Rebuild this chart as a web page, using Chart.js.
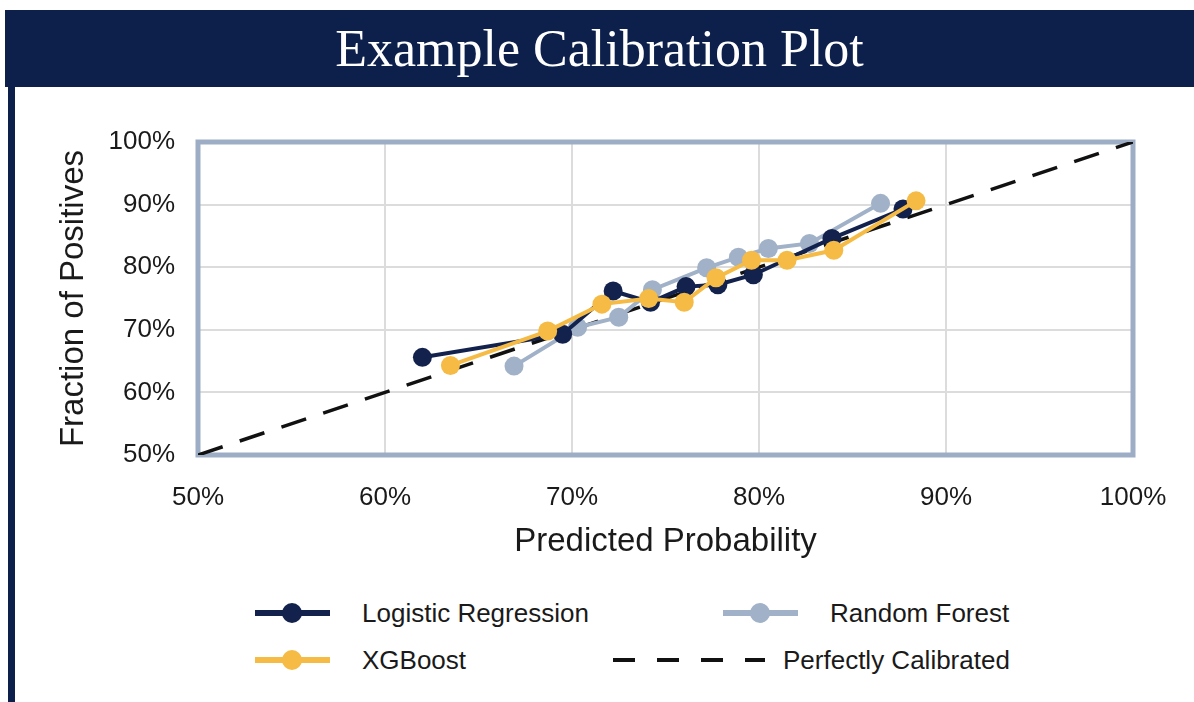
<!DOCTYPE html>
<html>
<head>
<meta charset="utf-8">
<script src="https://cdn.jsdelivr.net/npm/chart.js@4.4.1/dist/chart.umd.min.js"></script>
<style>
    html, body {
        margin: 0;
        padding: 0;
        width: 1194px;
        height: 702px;
        background: #ffffff;
        overflow: hidden;
        font-family: "Liberation Sans", Arial, sans-serif;
    }

    .title-band {
        position: absolute;
        left: 5px;
        top: 10px;
        width: 1189px;
        height: 77px;
        background: #0d1f4b;
        color: #ffffff;
        font-family: "Liberation Serif", "DejaVu Serif", serif;
        font-size: 52px;
        line-height: 77px;
        text-align: center;
    }

    .side-stripe {
        position: absolute;
        left: 8px;
        top: 87px;
        width: 7px;
        height: 615px;
        background: #0d1f4b;
    }

    #chart-wrap {
        position: absolute;
        left: 0;
        top: 87px;
        width: 1194px;
        height: 480px;
    }

    .legend-item {
        position: absolute;
        height: 30px;
        display: flex;
        align-items: center;
        font-size: 26px;
        color: #1a1a1a;
        white-space: nowrap;
    }

    .legend-icon {
        position: relative;
        width: 75px;
        height: 30px;
        margin-right: 32px;
    }

    .legend-icon .line {
        position: absolute;
        left: 0;
        right: 0;
        top: 12px;
        height: 6px;
    }

    .legend-icon .dot {
        position: absolute;
        left: 27px;
        top: 5px;
        width: 20px;
        height: 20px;
        border-radius: 50%;
    }

    .legend-icon.dashed {
        width: 152px;
        margin-right: 18px;
    }

    .legend-icon.dashed .line {
        top: 13px;
        height: 4px;
        background: repeating-linear-gradient(90deg, #111111 0 22px, transparent 22px 44px);
    }
</style>
</head>
<body>
<div class="title-band">Example Calibration Plot</div>
<div class="side-stripe"></div>
<div id="chart-wrap"><canvas id="chart" width="1194" height="480"></canvas></div>

<div class="legend-item" style="left:255px; top:598px;">
    <div class="legend-icon"><div class="line" style="background:#13224d"></div><div class="dot" style="background:#13224d"></div></div>
    <span>Logistic Regression</span>
</div>
<div class="legend-item" style="left:723px; top:598px;">
    <div class="legend-icon"><div class="line" style="background:#a0b1c8"></div><div class="dot" style="background:#a0b1c8"></div></div>
    <span>Random Forest</span>
</div>
<div class="legend-item" style="left:255px; top:645px;">
    <div class="legend-icon"><div class="line" style="background:#f5bb45"></div><div class="dot" style="background:#f5bb45"></div></div>
    <span>XGBoost</span>
</div>
<div class="legend-item" style="left:613px; top:645px;">
    <div class="legend-icon dashed"><div class="line"></div></div>
    <span>Perfectly Calibrated</span>
</div>

<script>
// predicted probability (x) and fraction of positives (y), in percent
const lrX = [62.0, 69.5, 72.2, 74.2, 76.1, 77.8, 79.7, 83.9, 87.7];
const lrY = [65.6, 69.3, 76.2, 74.4, 76.9, 77.2, 78.8, 84.6, 89.3];

const rfX = [66.9, 70.3, 72.5, 74.3, 77.2, 78.9, 80.5, 82.7, 86.5];
const rfY = [64.2, 70.4, 72.0, 76.4, 79.9, 81.6, 83.0, 83.8, 90.2];

const xgbX = [63.5, 68.7, 71.6, 74.1, 76.0, 77.7, 79.6, 81.5, 84.0, 88.4];
const xgbY = [64.3, 69.8, 74.1, 75.0, 74.4, 78.3, 81.1, 81.1, 82.7, 90.6];

const perfectX = [50, 100];
const perfectY = [50, 100];

const axisTicks = [50, 60, 70, 80, 90, 100];

const toPoints = (xs, ys) => xs.map((x, i) => ({ x, y: ys[i] }));

const navy = '#13224d';
const steel = '#a0b1c8';
const gold = '#f5bb45';

// plot frame drawn round the chart area
const frame = {
    id: 'frame',
    beforeDatasetsDraw(chart) {
        const { ctx, chartArea: a } = chart;
        ctx.save();
        ctx.strokeStyle = '#9dadc6';
        ctx.lineWidth = 5;
        ctx.strokeRect(a.left, a.top, a.right - a.left, a.bottom - a.top);
        ctx.restore();
    }
};

const series = (label, xs, ys, color, order) => ({
    label,
    data: toPoints(xs, ys),
    borderColor: color,
    backgroundColor: color,
    borderWidth: 4,
    pointRadius: 9.5,
    pointHoverRadius: 9.5,
    pointBorderWidth: 0,
    tension: 0,
    order
});

const tickFont = { family: '"Liberation Sans", Arial, sans-serif', size: 26 };
const titleFont = { family: '"Liberation Sans", Arial, sans-serif', size: 33 };

new Chart(document.getElementById('chart'), {
    type: 'line',
    data: {
        datasets: [
            series('XGBoost', xgbX, xgbY, gold, 0),
            series('Logistic Regression', lrX, lrY, navy, 1),
            series('Random Forest', rfX, rfY, steel, 2),
            {
                label: 'Perfectly Calibrated',
                data: toPoints(perfectX, perfectY),
                borderColor: '#111111',
                borderWidth: 3.5,
                borderDash: [26, 18],
                pointRadius: 0,
                order: 3
            }
        ]
    },
    options: {
        responsive: false,
        animation: false,
        layout: {
            padding: { left: 54, top: 55, right: 61, bottom: 5 }
        },
        plugins: {
            legend: { display: false },
            tooltip: { enabled: false }
        },
        scales: {
            x: {
                type: 'linear',
                min: 50,
                max: 100,
                afterBuildTicks: (scale) => {
                    scale.ticks = axisTicks.map(v => ({ value: v }));
                },
                afterFit: (scale) => { scale.height = 107; },
                grid: { color: '#dcdcdc', lineWidth: 2, drawTicks: false },
                border: { display: false },
                ticks: {
                    padding: 27,
                    color: '#1a1a1a',
                    font: tickFont,
                    maxRotation: 0,
                    callback: (v) => v + '%'
                },
                title: {
                    display: true,
                    text: 'Predicted Probability',
                    color: '#1a1a1a',
                    font: titleFont,
                    padding: 0
                }
            },
            y: {
                type: 'linear',
                min: 50,
                max: 100,
                afterBuildTicks: (scale) => {
                    scale.ticks = axisTicks.map(v => ({ value: v }));
                },
                afterFit: (scale) => { scale.width = 144; },
                grid: { color: '#dcdcdc', lineWidth: 2, drawTicks: false },
                border: { display: false },
                ticks: {
                    padding: 23,
                    color: '#1a1a1a',
                    font: tickFont,
                    callback: (v) => v + '%'
                },
                title: {
                    display: true,
                    text: 'Fraction of Positives',
                    color: '#1a1a1a',
                    font: titleFont,
                    padding: 0
                }
            }
        }
    },
    plugins: [frame]
});
</script>
</body>
</html>
